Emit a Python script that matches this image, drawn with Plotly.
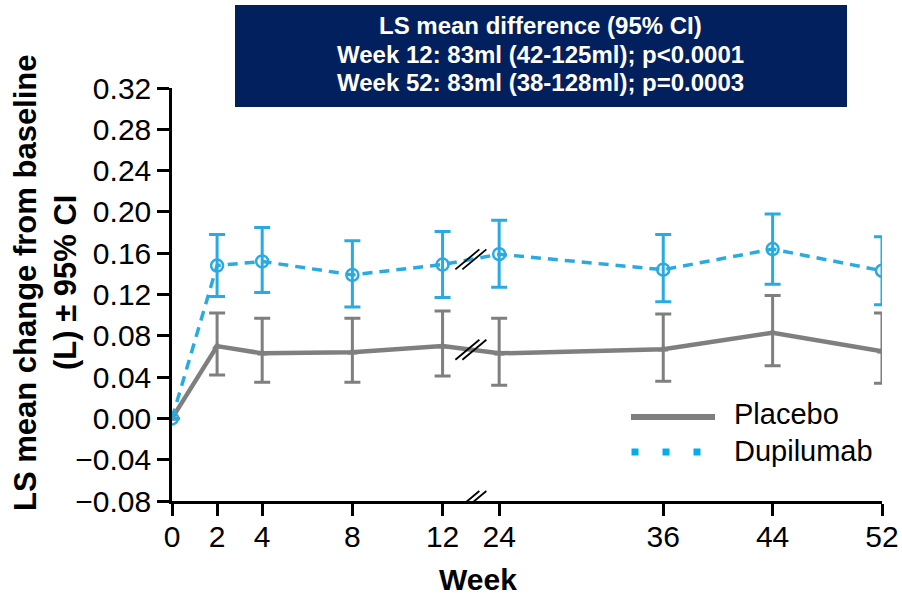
import plotly.graph_objects as go

# Study weeks and LS mean change from baseline (L) with 95% CI bounds
weeks = [0, 2, 4, 8, 12, 24, 36, 44, 52]
tick_labels = ["0", "2", "4", "8", "12", "24", "36", "44", "52"]

placebo_mean = [0.000, 0.070, 0.063, 0.064, 0.070, 0.063, 0.067, 0.083, 0.065]
placebo_upper = [0.000, 0.102, 0.097, 0.097, 0.104, 0.097, 0.101, 0.119, 0.102]
placebo_lower = [0.000, 0.042, 0.035, 0.035, 0.041, 0.032, 0.036, 0.051, 0.034]

dupi_mean = [0.000, 0.148, 0.152, 0.139, 0.149, 0.159, 0.144, 0.164, 0.143]
dupi_upper = [0.000, 0.178, 0.185, 0.172, 0.181, 0.192, 0.178, 0.198, 0.176]
dupi_lower = [0.000, 0.118, 0.122, 0.108, 0.117, 0.127, 0.113, 0.130, 0.110]

y_ticks = [-0.08, -0.04, 0.0, 0.04, 0.08, 0.12, 0.16, 0.20, 0.24, 0.28, 0.32]

header_lines = [
    "LS mean difference (95% CI)",
    "Week 12: 83ml (42-125ml); p<0.0001",
    "Week 52: 83ml (38-128ml); p=0.0003",
]
y_title_lines = ["LS mean change from baseline", "(L) ± 95% CI"]

# Broken x axis: weeks 0-12 on full scale, weeks 24-52 compressed after a gap
BREAK_AT = 12
RESUME_AT = 24
GAP = 2.51
LATE_SCALE = 0.6064


def xpos(w):
    if w <= BREAK_AT:
        return w
    return BREAK_AT + GAP + (w - RESUME_AT) * LATE_SCALE


xs = [xpos(w) for w in weeks]
x_max = xpos(weeks[-1])
break_x = BREAK_AT + GAP / 2

GRAY = "#7f7f7f"
BLUE = "#29abe2"
NAVY = "#02205e"
FONT = "Arial, Liberation Sans, sans-serif"

W, H = 902, 596
L, R, T, B = 172, 20, 88, 95
PW, PH = W - L - R, H - T - B


def px_x(p):
    return (p - L) / PW


def px_y(p):
    return (H - B - p) / PH


fig = go.Figure()

fig.add_trace(go.Scatter(
    x=xs, y=placebo_mean, mode="lines+markers", name="Placebo",
    line=dict(color=GRAY, width=4.5),
    marker=dict(symbol="triangle-up", size=9, color=GRAY),
    error_y=dict(type="data", symmetric=False,
                 array=[u - m for u, m in zip(placebo_upper, placebo_mean)],
                 arrayminus=[m - lo for m, lo in zip(placebo_mean, placebo_lower)],
                 color=GRAY, thickness=3, width=8),
    showlegend=False,
))

fig.add_trace(go.Scatter(
    x=xs, y=dupi_mean, mode="lines+markers", name="Dupilumab",
    line=dict(color=BLUE, width=3.5, dash="10px,7px"),
    marker=dict(symbol="circle-open", size=12, color=BLUE, line=dict(width=2.5, color=BLUE)),
    error_y=dict(type="data", symmetric=False,
                 array=[u - m for u, m in zip(dupi_upper, dupi_mean)],
                 arrayminus=[m - lo for m, lo in zip(dupi_mean, dupi_lower)],
                 color=BLUE, thickness=3, width=8),
    showlegend=False,
))

shapes = []


def break_marks(yanchor):
    out = []
    for off in (-3.5, 3.5):
        out.append(dict(
            type="line", xref="x", yref="y",
            xsizemode="pixel", xanchor=break_x,
            ysizemode="pixel", yanchor=yanchor,
            x0=off - 12, x1=off + 12, y0=-10, y1=10,
            line=dict(color="black", width=1.8),
        ))
    return out


# axis break markers on the x axis and on both series lines
i12 = weeks.index(BREAK_AT)
i24 = weeks.index(RESUME_AT)
shapes += break_marks(-0.08)
shapes += break_marks((dupi_mean[i12] + dupi_mean[i24]) / 2)
shapes += break_marks((placebo_mean[i12] + placebo_mean[i24]) / 2)

# header box
shapes.append(dict(type="rect", xref="paper", yref="paper",
                   x0=px_x(235), x1=px_x(847), y0=px_y(107), y1=px_y(5),
                   fillcolor=NAVY, line=dict(width=0), layer="above"))

# legend samples
shapes.append(dict(type="line", xref="paper", yref="paper",
                   x0=px_x(631), x1=px_x(715), y0=px_y(417), y1=px_y(417),
                   line=dict(color=GRAY, width=6)))
for cx in (635, 666, 697):
    shapes.append(dict(type="rect", xref="paper", yref="paper",
                       x0=px_x(cx - 3.5), x1=px_x(cx + 3.5),
                       y0=px_y(452 + 3.5), y1=px_y(452 - 3.5),
                       fillcolor="#00aeef", line=dict(width=0)))

annotations = []
for text, yc in zip(header_lines, (26, 54, 82)):
    annotations.append(dict(
        xref="paper", yref="paper", x=px_x(540), y=px_y(yc), text=text,
        showarrow=False, xanchor="center", yanchor="middle",
        font=dict(family=FONT, size=24, color="white", weight="bold")))

for text, yc in zip(["Placebo", "Dupilumab"], (414, 451)):
    annotations.append(dict(
        xref="paper", yref="paper", x=px_x(732), y=px_y(yc), text=text,
        showarrow=False, xanchor="left", yanchor="middle",
        font=dict(family=FONT, size=29, color="black")))

for text, xc in zip(y_title_lines, (25, 65)):
    annotations.append(dict(
        xref="paper", yref="paper", x=px_x(xc), y=px_y(283), text=text,
        textangle=-90, showarrow=False, xanchor="center", yanchor="middle",
        font=dict(family=FONT, size=31, color="black", weight="bold")))

annotations.append(dict(
    xref="paper", yref="paper", x=px_x(478), y=px_y(579), text="Week",
    showarrow=False, xanchor="center", yanchor="middle",
    font=dict(family=FONT, size=30, color="black", weight="bold")))

axis_style = dict(
    showgrid=False, zeroline=False, showline=True, linecolor="black", linewidth=2.5,
    ticks="outside", ticklen=12, tickwidth=2.5, tickcolor="black", automargin=False,
    tickfont=dict(size=30, family=FONT, color="black"),
)

fig.update_layout(
    width=W, height=H, autosize=False,
    margin=dict(l=L, r=R, t=T, b=B),
    paper_bgcolor="white", plot_bgcolor="white",
    font=dict(family=FONT, color="black"),
    shapes=shapes, annotations=annotations,
    xaxis=dict(range=[0, x_max], tickvals=xs, ticktext=tick_labels,
               ticklabelstandoff=-5, **axis_style),
    yaxis=dict(range=[-0.08, 0.32], tickvals=y_ticks, tickformat=".2f", **axis_style),
)

fig.write_html(
    "out.html",
    config=dict(displayModeBar=False, responsive=False),
    post_script="document.body.style.margin='0';document.body.style.overflow='hidden';",
)
